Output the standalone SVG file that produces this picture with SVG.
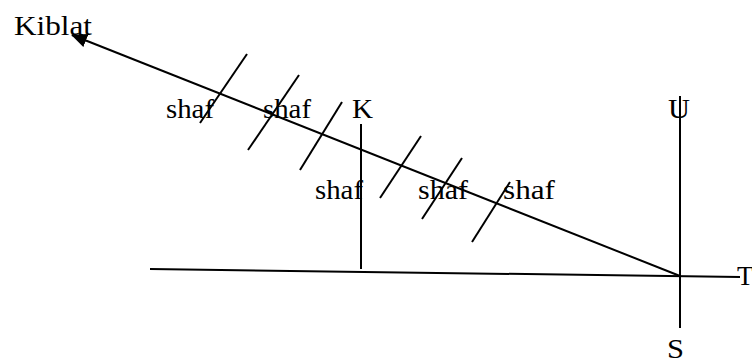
<svg xmlns="http://www.w3.org/2000/svg" width="752" height="362" viewBox="0 0 752 362">
<defs>
<style>
text{font-family:"Liberation Serif","Times New Roman",serif;font-size:27px;fill:#000}
.ln{stroke:#000;stroke-width:2;fill:none}
</style>
<marker id="ahb" viewBox="0 0 16 14" refX="15" refY="7" markerWidth="16" markerHeight="14" markerUnits="userSpaceOnUse" orient="auto">
<path d="M0,0 L16,7 L0,14 z" fill="#000"/>
</marker>
</defs>
<rect width="752" height="362" fill="#fff"/>
<g id="connectors">
<line class="ln" x1="680" y1="276" x2="72" y2="35" marker-end="url(#ahb)"/>
<line class="ln" x1="150" y1="269" x2="740" y2="277"/>
<line class="ln" x1="680" y1="96" x2="680" y2="328"/>
<line class="ln" x1="361" y1="124" x2="361" y2="269"/>
<line class="ln" x1="200" y1="123" x2="247" y2="54"/>
<line class="ln" x1="248" y1="150" x2="299" y2="75"/>
<line class="ln" x1="300" y1="170" x2="342" y2="102"/>
<line class="ln" x1="380" y1="198" x2="421" y2="136"/>
<line class="ln" x1="422" y1="219" x2="462" y2="158"/>
<line class="ln" x1="472" y1="242" x2="510" y2="182"/>
</g>
<g id="kiblat"><text x="14" y="35" textLength="78" lengthAdjust="spacingAndGlyphs">Kiblat</text></g>
<g id="shaf1"><text x="166" y="118" textLength="48" lengthAdjust="spacingAndGlyphs">shaf</text></g>
<g id="shaf2"><text x="263" y="118" textLength="48" lengthAdjust="spacingAndGlyphs">shaf</text></g>
<g id="k"><text x="352" y="118" textLength="21" lengthAdjust="spacingAndGlyphs">K</text></g>
<g id="u"><text x="668" y="118" textLength="22" lengthAdjust="spacingAndGlyphs">U</text></g>
<g id="shaf3"><text x="315" y="199" textLength="48" lengthAdjust="spacingAndGlyphs">shaf</text></g>
<g id="shaf4"><text x="418" y="199" textLength="50" lengthAdjust="spacingAndGlyphs">shaf</text></g>
<g id="shaf5"><text x="503" y="199" textLength="52" lengthAdjust="spacingAndGlyphs">shaf</text></g>
<g id="t"><text x="737" y="285">T</text></g>
<g id="s"><text x="667" y="358" textLength="17" lengthAdjust="spacingAndGlyphs">S</text></g>
</svg>
